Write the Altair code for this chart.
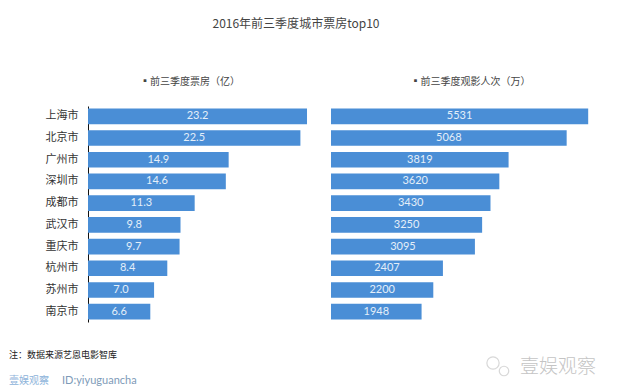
import altair as alt
import pandas as pd

cities = ["上海市", "北京市", "广州市", "深圳市", "成都市", "武汉市", "重庆市", "杭州市", "苏州市", "南京市"]
box_office = [23.2, 22.5, 14.9, 14.6, 11.3, 9.8, 9.7, 8.4, 7.0, 6.6]
admissions = [5531, 5068, 3819, 3620, 3430, 3250, 3095, 2407, 2200, 1948]

title_text = "2016年前三季度城市票房top10"
left_legend = "▪前三季度票房（亿）"
right_legend = "▪前三季度观影人次（万）"
note_text = ["注：数据来源艺恩电影智库"]
brand_text = ["壹娱观察"]
id_text = ["ID:yiyuguancha"]
watermark_text = ["壹娱观察"]

CJK = "Noto Sans CJK SC"
NUM = "Lato"
BAR = "#4A8ED6"
LBL = "#E4EEF9"

df = pd.DataFrame({"city": cities, "box": box_office, "adm": admissions})

yscale = alt.Scale(paddingInner=0.28, paddingOuter=0.115)

left_base = alt.Chart(df).encode(
    y=alt.Y("city:N", sort=cities, scale=yscale, title=None,
            axis=alt.Axis(domain=True, domainColor="#111", domainWidth=1, ticks=False,
                          labelFont=CJK, labelFontSize=11, labelColor="#333",
                          labelPadding=10, minExtent=80, maxExtent=80, grid=False))
)
left_bars = left_base.mark_bar(color=BAR, cornerRadius=0).encode(
    x=alt.X("box:Q", scale=alt.Scale(domain=[0, 25], nice=False), axis=None)
)
left_text = left_base.transform_calculate(mid="datum.box / 2").mark_text(
    color=LBL, font=NUM, fontSize=11, baseline="middle"
).encode(x=alt.X("mid:Q", scale=alt.Scale(domain=[0, 25], nice=False), axis=None),
         text=alt.Text("box:Q", format=".1f"))

note = alt.Chart(pd.DataFrame({"t": note_text})).mark_text(
    font=CJK, fontSize=9, color="#222", align="left", baseline="middle"
).encode(text="t:N", x=alt.value(-79), y=alt.value(249))
brand = alt.Chart(pd.DataFrame({"t": brand_text})).mark_text(
    font=CJK, fontSize=10, color="#8DB3DA", align="left", baseline="middle"
).encode(text="t:N", x=alt.value(-79), y=alt.value(275))
ident = alt.Chart(pd.DataFrame({"t": id_text})).mark_text(
    font=NUM, fontSize=11, color="#7E9BB8", align="left", baseline="middle"
).encode(text="t:N", x=alt.value(-26), y=alt.value(275))

left = alt.layer(left_bars, left_text, note, brand, ident).properties(
    width=236, height=216,
    title=alt.TitleParams(left_legend, font=CJK, fontSize=10, fontWeight="normal",
                          color="#444", offset=19, dx=-16)
)

right_base = alt.Chart(df).encode(
    y=alt.Y("city:N", sort=cities, scale=yscale, title=None, axis=None)
)
right_bars = right_base.mark_bar(color=BAR).encode(
    x=alt.X("adm:Q", scale=alt.Scale(domain=[0, 6000], nice=False), axis=None)
)
right_text = right_base.transform_calculate(mid="datum.adm / 2").mark_text(
    color=LBL, font=NUM, fontSize=11, baseline="middle"
).encode(x=alt.X("mid:Q", scale=alt.Scale(domain=[0, 6000], nice=False), axis=None),
         text=alt.Text("adm:Q", format="d"))
wm = alt.Chart(pd.DataFrame({"t": watermark_text})).mark_text(
    font=CJK, fontSize=19, color="#C4C4C4", align="left", baseline="middle", fontWeight=300
).encode(text="t:N", x=alt.value(189), y=alt.value(261))
icon1 = alt.Chart(pd.DataFrame({"t": ["a"]})).mark_point(
    shape="circle", filled=False, stroke="#C8C8C8", strokeWidth=1.2, size=150
).encode(x=alt.value(162), y=alt.value(257))
icon2 = alt.Chart(pd.DataFrame({"t": ["b"]})).mark_point(
    shape="circle", filled=False, stroke="#C8C8C8", strokeWidth=1.2, size=90
).encode(x=alt.value(173), y=alt.value(265))

right = alt.layer(right_bars, right_text, wm, icon1, icon2).properties(
    width=279, height=216,
    title=alt.TitleParams(right_legend, font=CJK, fontSize=10, fontWeight="normal",
                          color="#444", offset=19)
)

chart = alt.hconcat(left, right, spacing=7).properties(
    title=alt.TitleParams(title_text, font=CJK, fontSize=12, fontWeight="normal",
                          color="#444", anchor="middle", offset=46, dx=-13),
    padding={"left": 0, "top": 10, "right": 0, "bottom": 0},
    background="white",
).configure_view(stroke=None).configure_concat(spacing=7)

chart.save("out.html", embed_options={"renderer": "svg", "actions": False})
